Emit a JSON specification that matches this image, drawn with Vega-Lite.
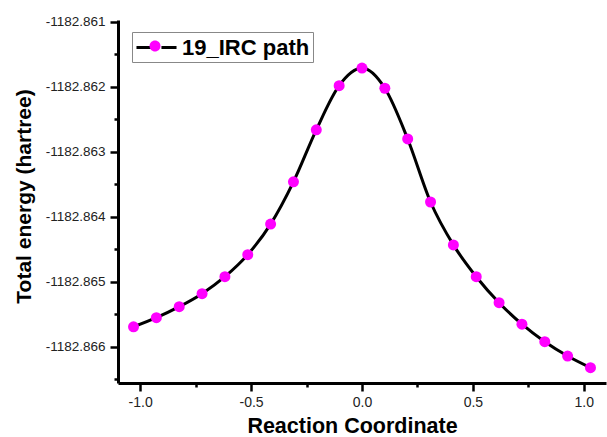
{
  "$schema": "https://vega.github.io/schema/vega-lite/v6.json",
  "autosize": "none",
  "width": 488,
  "height": 363,
  "padding": {"left": 118, "top": 20, "right": 1, "bottom": 54},
  "background": "white",
  "config": {"view": {"stroke": null}},
  "data": {"values": [
    {"x": -1.03, "e": -1182.86569, "series": "19_IRC path", "legend": "19_IRC path"},
    {"x": -0.927, "e": -1182.86555, "series": "19_IRC path", "legend": "19_IRC path"},
    {"x": -0.824, "e": -1182.86538, "series": "19_IRC path", "legend": "19_IRC path"},
    {"x": -0.721, "e": -1182.86518, "series": "19_IRC path", "legend": "19_IRC path"},
    {"x": -0.618, "e": -1182.86492, "series": "19_IRC path", "legend": "19_IRC path"},
    {"x": -0.515, "e": -1182.86458, "series": "19_IRC path", "legend": "19_IRC path"},
    {"x": -0.412, "e": -1182.86411, "series": "19_IRC path", "legend": "19_IRC path"},
    {"x": -0.309, "e": -1182.86346, "series": "19_IRC path", "legend": "19_IRC path"},
    {"x": -0.206, "e": -1182.86266, "series": "19_IRC path", "legend": "19_IRC path"},
    {"x": -0.103, "e": -1182.86198, "series": "19_IRC path", "legend": "19_IRC path"},
    {"x": 0.0, "e": -1182.86171, "series": "19_IRC path", "legend": "19_IRC path"},
    {"x": 0.103, "e": -1182.86202, "series": "19_IRC path", "legend": "19_IRC path"},
    {"x": 0.206, "e": -1182.8628, "series": "19_IRC path", "legend": "19_IRC path"},
    {"x": 0.309, "e": -1182.86377, "series": "19_IRC path", "legend": "19_IRC path"},
    {"x": 0.412, "e": -1182.86443, "series": "19_IRC path", "legend": "19_IRC path"},
    {"x": 0.515, "e": -1182.86492, "series": "19_IRC path", "legend": "19_IRC path"},
    {"x": 0.618, "e": -1182.86532, "series": "19_IRC path", "legend": "19_IRC path"},
    {"x": 0.721, "e": -1182.86565, "series": "19_IRC path", "legend": "19_IRC path"},
    {"x": 0.824, "e": -1182.86592, "series": "19_IRC path", "legend": "19_IRC path"},
    {"x": 0.927, "e": -1182.86614, "series": "19_IRC path", "legend": "19_IRC path"},
    {"x": 1.03, "e": -1182.86632, "series": "19_IRC path", "legend": "19_IRC path"}
  ]},
  "resolve": {"axis": {"x": "independent", "y": "independent"}},
  "layer": [
    {
      "mark": {"type": "line", "interpolate": "monotone", "strokeWidth": 3},
      "encoding": {
        "x": {
          "field": "x", "type": "quantitative",
          "scale": {"domain": [-1.1, 1.1], "zero": false, "nice": false},
          "axis": {
            "orient": "bottom",
            "title": "Reaction Coordinate",
            "values": [-1, -0.5, 0, 0.5, 1],
            "labelExpr": "replace(format(datum.value, '.1f'), '\u2212', '-')",
            "labelOverlap": false,
            "grid": false,
            "domainColor": "black", "domainWidth": 3,
            "tickColor": "black", "tickWidth": 2.5, "tickSize": 8,
            "labelFont": "Liberation Sans", "labelFontSize": 14, "labelColor": "#222", "labelPadding": 4,
            "titleFont": "Liberation Sans", "titleFontSize": 21.5, "titleFontWeight": "bold", "titleColor": "black",
            "titleX": 234, "titleY": 49, "titleBaseline": "alphabetic", "titleAnchor": "middle"
          }
        },
        "y": {
          "field": "e", "type": "quantitative",
          "scale": {"domain": [-1182.866555, -1182.86097], "zero": false, "nice": false},
          "axis": {
            "orient": "left",
            "title": "Total energy (hartree)",
            "values": [-1182.866, -1182.865, -1182.864, -1182.863, -1182.862, -1182.861],
            "labelExpr": "replace(format(datum.value, '.3f'), '\u2212', '-')",
            "labelOverlap": false,
            "grid": false,
            "domainColor": "black", "domainWidth": 3,
            "tickColor": "black", "tickWidth": 2.5, "tickSize": 8,
            "labelFont": "Liberation Sans", "labelFontSize": 13.5, "labelColor": "#222", "labelPadding": 5,
            "titleFont": "Liberation Sans", "titleFontSize": 21, "titleFontWeight": "bold", "titleColor": "black",
            "titleX": -84, "titleY": 176, "titleBaseline": "bottom", "titleAnchor": "middle", "titleAngle": -90
          }
        },
        "stroke": {
          "field": "series", "type": "nominal",
          "scale": {"range": ["#000000"]},
          "legend": {
            "orient": "none", "legendX": 14, "legendY": 12, "title": null,
            "symbolType": "M-1.82,0H-0.45M0.45,0H1.82", "symbolSize": 484, "symbolOffset": 9, "symbolStrokeWidth": 3, "symbolStrokeColor": "black",
            "labelFont": "Liberation Sans", "labelFontSize": 22, "labelFontWeight": "bold", "labelColor": "black", "labelOffset": 13,
            "padding": 3, "strokeColor": "#888888"
          }
        }
      }
    },
    {
      "mark": {"type": "point", "shape": "circle", "filled": true, "size": 121, "opacity": 1},
      "encoding": {
        "x": {
          "field": "x", "type": "quantitative",
          "axis": {
            "orient": "bottom", "title": null, "labels": false, "domain": false, "grid": false,
            "values": [-0.75, -0.25, 0.25, 0.75],
            "tickColor": "black", "tickWidth": 2.5, "tickSize": 4
          }
        },
        "y": {
          "field": "e", "type": "quantitative",
          "axis": {
            "orient": "left", "title": null, "labels": false, "domain": false, "grid": false,
            "values": [-1182.8665, -1182.8655, -1182.8645, -1182.8635, -1182.8625, -1182.8615],
            "tickColor": "black", "tickWidth": 2.5, "tickSize": 4
          }
        },
        "fill": {
          "field": "legend", "type": "nominal",
          "scale": {"range": ["#ff00ff"]},
          "legend": {
            "orient": "none", "legendX": 14, "legendY": 12, "title": null,
            "symbolType": "M0.5,0A0.5,0.5,0,1,1,-0.5,0A0.5,0.5,0,1,1,0.5,0Z", "symbolSize": 484, "symbolOffset": 9, "symbolStrokeWidth": 0,
            "labelExpr": "''",
            "labelFont": "Liberation Sans", "labelFontSize": 22, "labelFontWeight": "bold", "labelOpacity": 0, "labelOffset": 13,
            "padding": 3
          }
        }
      }
    }
  ]
}
